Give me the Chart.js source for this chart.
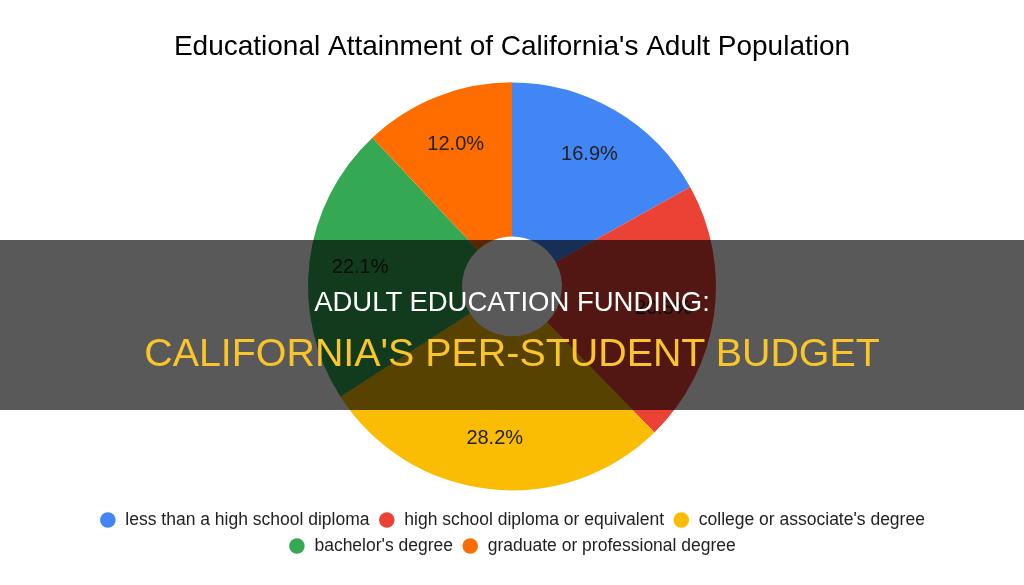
<!DOCTYPE html>
<html>
<head>
<meta charset="utf-8">
<script src="https://cdn.jsdelivr.net/npm/chart.js@4/dist/chart.umd.min.js"></script>
<style>
  html, body { margin: 0; padding: 0; background: #fff; }
  #wrap { position: relative; width: 1024px; height: 585px; overflow: hidden; }
  #banner { position: absolute; left: 0; top: 240px; width: 1024px; height: 170px; background: rgba(0,0,0,0.65); }
  .line { position: absolute; left: 0; width: 1024px; text-align: center; font-family: "Liberation Sans", Arial, sans-serif; white-space: nowrap; }
  #l1 { top: 287px; font-size: 27.5px; line-height: 30px; color: #fff; }
  #l2 { top: 330px; font-size: 39.4px; line-height: 44px; color: #FAC52A; }
</style>
</head>
<body>
<div id="wrap">
  <canvas id="pie" width="1024" height="585"></canvas>
  <div id="banner"></div>
  <div class="line" id="l1">ADULT EDUCATION FUNDING:</div>
  <div class="line" id="l2">CALIFORNIA'S PER-STUDENT BUDGET</div>
</div>
<script>
const labels = ['less than a high school diploma', 'high school diploma or equivalent', "college or associate's degree", "bachelor's degree", 'graduate or professional degree']
const shares = [16.9, 20.8, 28.2, 22.1, 12.0]
const colors = ['#4285F4', '#EA4335', '#FBBC04', '#34A853', '#FF6D01']

// percent labels inside each slice
const sliceLabels = {
    id: 'sliceLabels',
    afterDatasetsDraw(chart) {
        const ctx = chart.ctx
        const meta = chart.getDatasetMeta(0)
        ctx.save()
        ctx.font = '20px "Liberation Sans", Arial, sans-serif'
        ctx.fillStyle = '#222'
        ctx.textAlign = 'center'
        ctx.textBaseline = 'middle'
        meta.data.forEach((arc, i) => {
            const p = arc.getProps(['x', 'y', 'startAngle', 'endAngle', 'outerRadius'], true)
            const mid = (p.startAngle + p.endAngle) / 2
            const r = p.outerRadius * 0.75
            ctx.fillText(shares[i].toFixed(1) + '%', p.x + Math.cos(mid) * r, p.y + Math.sin(mid) * r)
        })
        ctx.restore()
    }
}

new Chart(document.getElementById('pie'), {
    type: 'doughnut',
    data: {
        labels: labels,
        datasets: [{
            data: shares,
            backgroundColor: colors,
            borderWidth: 0
        }]
    },
    options: {
        responsive: false,
        animation: false,
        radius: 204,
        cutout: '24.5%',
        layout: { padding: { top: 0, bottom: 20.25, left: 70, right: 70 } },
        plugins: {
            title: {
                display: true,
                text: "Educational Attainment of California's Adult Population",
                color: '#000',
                font: { family: '"Liberation Sans", Arial, sans-serif', size: 28, weight: 'normal' },
                padding: { top: 30, bottom: 6.4 }
            },
            legend: {
                position: 'bottom',
                labels: {
                    usePointStyle: true,
                    pointStyle: 'circle',
                    boxWidth: 17.5,
                    boxHeight: 11,
                    padding: 8.5,
                    color: '#222',
                    font: { family: '"Liberation Sans", Arial, sans-serif', size: 17.5 }
                }
            },
            tooltip: { enabled: false }
        }
    },
    plugins: [sliceLabels]
})
</script>
</body>
</html>
